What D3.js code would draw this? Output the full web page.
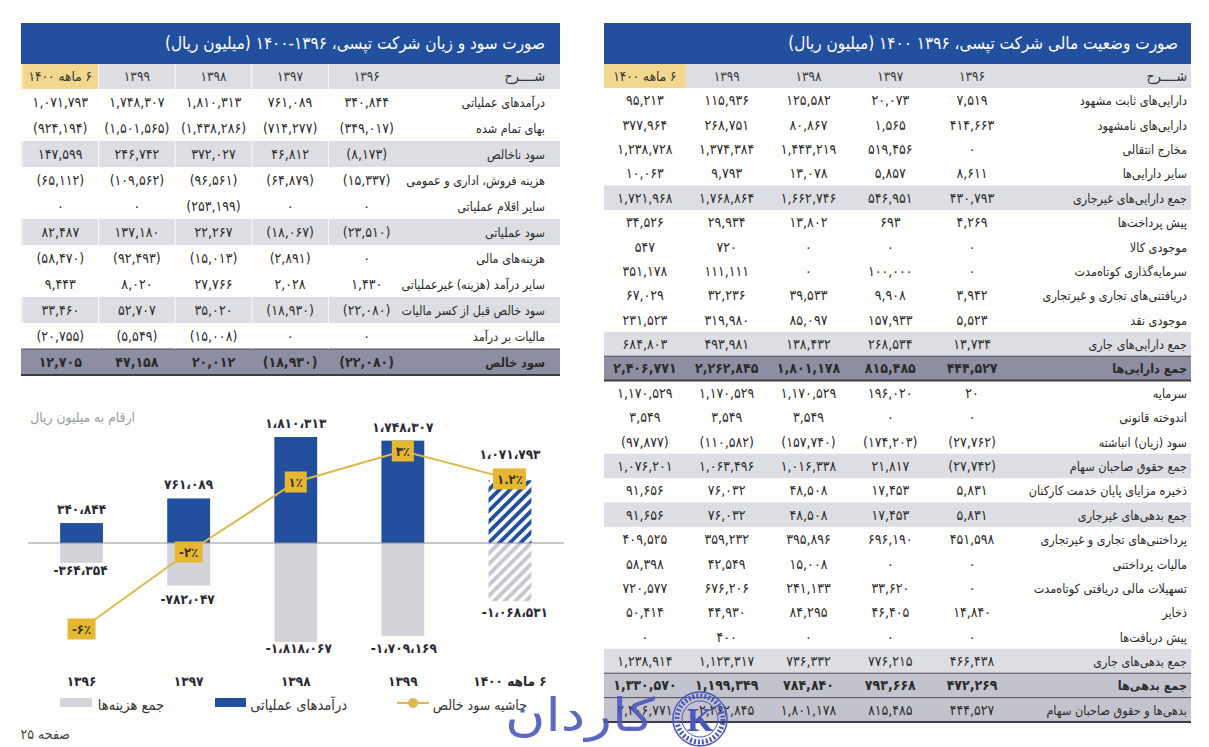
<!DOCTYPE html>
<html>
<head>
<meta charset="utf-8">
<script src="https://cdn.jsdelivr.net/npm/d3@7"></script>
<style>
    html, body { margin: 0; padding: 0; background: #fdfdfb; }
    svg { display: block; }
    text { font-family: "DejaVu Sans Condensed", "DejaVu Sans", sans-serif; }
</style>
</head>
<body>
<svg id="page" width="1209" height="747"></svg>
<script>
'use strict';

// years, oldest first (same order as the value arrays)
var years = ['1396', '1397', '1398', '1399', '6 ماهه 1400'];

// income statement
var incomeTitle = 'صورت سود و زیان شرکت تپسی، ۱۳۹۶-۱۴۰۰ (میلیون ریال)';
var incomeLabels = ['درآمدهای عملیاتی', 'بهای تمام شده', 'سود ناخالص', 'هزینه فروش، اداری و عمومی', 'سایر اقلام عملیاتی',
    'سود عملیاتی', 'هزینه‌های مالی', 'سایر درآمد (هزینه) غیرعملیاتی', 'سود خالص قبل از کسر مالیات', 'مالیات بر درآمد', 'سود خالص'];
var incomeValues = [
    [340844, 761089, 1810313, 1748307, 1071793],
    [-349017, -714277, -1438286, -1501565, -924194],
    [-8173, 46812, 372027, 246742, 147599],
    [-15337, -64879, -96561, -109562, -65112],
    [0, 0, -253199, 0, 0],
    [-23510, -18067, 22267, 137180, 82487],
    [0, -2891, -15013, -92493, -58470],
    [1430, 2028, 27766, 8020, 9443],
    [-22080, -18930, 35020, 52707, 33460],
    [0, 0, -15008, -5549, -20755],
    [-22080, -18930, 20012, 47158, 12705]
];
var incomeGrey = [2, 5, 8];
var incomeDark = [10];

// balance sheet
var balanceTitle = 'صورت وضعیت مالی شرکت تپسی، ۱۳۹۶  ۱۴۰۰ (میلیون ریال)';
var balanceLabels = ['دارایی‌های ثابت مشهود', 'دارایی‌های نامشهود', 'مخارج انتقالی', 'سایر دارایی‌ها', 'جمع دارایی‌های غیرجاری',
    'پیش پرداخت‌ها', 'موجودی کالا', 'سرمایه‌گذاری کوتاه‌مدت', 'دریافتنی‌های تجاری و غیرتجاری', 'موجودی نقد', 'جمع دارایی‌های جاری', 'جمع دارایی‌ها',
    'سرمایه', 'اندوخته قانونی', 'سود (زیان) انباشته', 'جمع حقوق صاحبان سهام', 'ذخیره مزایای پایان خدمت کارکنان', 'جمع بدهی‌های غیرجاری',
    'پرداختنی‌های تجاری و غیرتجاری', 'مالیات پرداختنی', 'تسهیلات مالی دریافتی کوتاه‌مدت', 'ذخایر', 'پیش دریافت‌ها', 'جمع بدهی‌های جاری', 'جمع بدهی‌ها', 'بدهی‌ها و حقوق صاحبان سهام'];
var balanceValues = [
    [7519, 20073, 125582, 115936, 95213],
    [414663, 1565, 80867, 268751, 377964],
    [0, 519456, 1443219, 1374384, 1238728],
    [8611, 5857, 13078, 9793, 10063],
    [430793, 546951, 1662746, 1768864, 1721968],
    [4269, 693, 13802, 29934, 34526],
    [0, 0, 0, 720, 547],
    [0, 100000, 0, 111111, 351178],
    [3942, 9908, 39533, 32236, 67029],
    [5523, 157933, 85097, 319980, 231523],
    [13734, 268534, 138432, 493981, 684803],
    [444527, 815485, 1801178, 2262845, 2406771],
    [20, 196020, 1170529, 1170529, 1170529],
    [0, 0, 3549, 3549, 3549],
    [-27762, -174203, -157740, -110582, -97877],
    [-27742, 21817, 1016338, 1063496, 1076201],
    [5831, 17453, 48508, 76032, 91656],
    [5831, 17453, 48508, 76032, 91656],
    [451598, 696190, 395896, 359232, 409525],
    [0, 0, 15008, 42549, 58398],
    [0, 33620, 241133, 676206, 720577],
    [14840, 46405, 84295, 44930, 50414],
    [0, 0, 0, 400, 0],
    [466438, 776215, 736332, 1123317, 1238914],
    [472269, 793668, 784840, 1199349, 1330570],
    [444527, 815485, 1801178, 2262845, 2406771]
];
var balanceGrey = [4, 10, 15, 17, 23];
var balanceDark = [11];
var balanceMid = [24, 25];
var balanceBold = [11, 24];

// chart series
var revenue = [340844, 761089, 1810313, 1748307, 1071793];
var costs = [-364354, -782047, -1818067, -1709169, -1068531];
var margin = [-6, -2, 1, 3, 1.2];

var BLUE = '#22509f', GREY = '#dcdee3', YELLOW = '#f2d88e', DARK = '#8e8ea2', GOLD = '#e6b733';

function fa(s) {
    return String(s).replace(/[0-9]/g, function(d) { return '۰۱۲۳۴۵۶۷۸۹'[d]; });
}

function tableNum(v) {
    var s = fa(d3.format(',')(Math.abs(v)));
    return v < 0 ? '(' + s + ')' : s;
}

function chartNum(v) {
    var s = fa(d3.format(',')(Math.abs(v))).replace(/,/g, '،');
    return v < 0 ? '-' + s : s;
}

var svg = d3.select('#page');
var defs = svg.append('defs');

function hatch(id, color) {
    var p = defs.append('pattern')
        .attr('id', id)
        .attr('width', 7.5)
        .attr('height', 7.5)
        .attr('patternUnits', 'userSpaceOnUse')
        .attr('patternTransform', 'rotate(45)');
    p.append('rect').attr('width', 7.5).attr('height', 7.5).attr('fill', '#fdfdfb');
    p.append('rect').attr('width', 3.8).attr('height', 7.5).attr('fill', color);
}
hatch('hatchBlue', BLUE);
hatch('hatchGrey', '#c5c8d0');

function drawTable(cfg) {
    var g = svg.append('g');
    var x = d3.scaleBand().domain(years.slice().reverse()).range(cfg.colRange);
    var y = d3.scaleBand().domain(d3.range(cfg.labels.length)).range(cfg.rowRange);
    var rowH = y.bandwidth();

    // title band
    g.append('rect').attr('x', cfg.left).attr('y', 23).attr('width', cfg.right - cfg.left).attr('height', 41).attr('fill', BLUE);
    g.append('text')
        .attr('x', cfg.titleX).attr('y', 49)
        .attr('text-anchor', 'start').attr('direction', 'rtl')
        .attr('font-size', 17).attr('fill', '#fff')
        .text(cfg.title);

    // header row
    g.append('rect').attr('x', cfg.left).attr('y', 64).attr('width', cfg.right - cfg.left).attr('height', cfg.rowRange[0] - 64).attr('fill', '#dddde4');
    g.append('rect').attr('x', cfg.left).attr('y', 64).attr('width', x(years[4]) + x.bandwidth() - cfg.left).attr('height', cfg.rowRange[0] - 64).attr('fill', YELLOW);
    g.append('text')
        .attr('x', cfg.labelX).attr('y', 81)
        .attr('text-anchor', 'start').attr('direction', 'rtl')
        .attr('font-size', 14).attr('fill', '#333')
        .text('شــــرح');
    g.selectAll('.yr').data(years).enter().append('text')
        .attr('x', function(d) { return x(d) + x.bandwidth() / 2; })
        .attr('y', 81)
        .attr('text-anchor', 'middle')
        .attr('direction', 'rtl')
        .attr('font-size', 13.5)
        .attr('fill', '#333')
        .text(function(d) { return fa(d); });

    // shaded rows
    cfg.labels.forEach(function(label, i) {
        var fill = null;
        if (cfg.grey.indexOf(i) >= 0) fill = GREY;
        if (cfg.mid.indexOf(i) >= 0) fill = '#c2c3cc';
        if (cfg.dark.indexOf(i) >= 0) fill = DARK;
        if (fill) {
            g.append('rect').attr('x', cfg.left).attr('y', y(i)).attr('width', cfg.right - cfg.left).attr('height', rowH).attr('fill', fill);
        }
        if (cfg.dark.indexOf(i) >= 0 || cfg.mid.indexOf(i) >= 0) {
            g.append('line').attr('x1', cfg.left).attr('x2', cfg.right).attr('y1', y(i)).attr('y2', y(i)).attr('stroke', '#4b4b58').attr('stroke-width', 1);
        }
        if (i === cfg.labels.length - 1 || cfg.dark.indexOf(i) >= 0) {
            g.append('line').attr('x1', cfg.left).attr('x2', cfg.right).attr('y1', y(i) + rowH).attr('y2', y(i) + rowH).attr('stroke', '#3c3c48').attr('stroke-width', 2);
        }
    });

    // column gaps on the shaded rows
    if (cfg.gaps) {
        years.forEach(function(d) {
            g.append('line').attr('x1', x(d)).attr('x2', x(d)).attr('y1', 64).attr('y2', cfg.rowRange[1] - rowH).attr('stroke', '#fdfdfb').attr('stroke-width', 1);
        });
    }

    // labels + values
    var rows = g.selectAll('.row').data(cfg.labels).enter().append('g')
        .attr('transform', function(d, i) { return 'translate(0,' + (y(i) + rowH / 2 + 5) + ')'; });
    rows.append('text')
        .attr('x', cfg.labelX)
        .attr('text-anchor', 'start')
        .attr('direction', 'rtl')
        .attr('font-size', 12.5)
        .attr('font-weight', function(d, i) { return cfg.bold.indexOf(i) >= 0 ? 'bold' : 'normal'; })
        .attr('fill', '#2b2b2b')
        .text(function(d) { return d; });
    rows.each(function(d, i) {
        d3.select(this).selectAll('.v').data(cfg.values[i]).enter().append('text')
            .attr('x', function(v, j) { return x(years[j]) + x.bandwidth() / 2; })
            .attr('text-anchor', 'middle')
            .attr('font-size', 14)
            .attr('font-weight', cfg.bold.indexOf(i) >= 0 ? 'bold' : 'normal')
            .attr('fill', '#2b2b2b')
            .text(function(v) { return tableNum(v); });
    });
}

drawTable({
    title: incomeTitle, titleX: 545,
    left: 21, right: 560, labelX: 545, colRange: [22, 405], rowRange: [89, 375],
    labels: incomeLabels, values: incomeValues,
    grey: incomeGrey, dark: incomeDark, mid: [], bold: incomeDark, gaps: true
});
drawTable({
    title: balanceTitle, titleX: 1178,
    left: 604, right: 1191, labelX: 1187, colRange: [604, 1013], rowRange: [88, 722],
    labels: balanceLabels, values: balanceValues,
    grey: balanceGrey, dark: balanceDark, mid: balanceMid, bold: balanceBold, gaps: false
});

// bar + line chart
var chart = svg.append('g');
var x = d3.scaleBand().domain(years).range([28, 563.5]).paddingInner(0.6).paddingOuter(0.3);
var y = d3.scaleLinear().domain([-1818067, 0, 1810313]).range([642, 543, 437]);
var yMargin = d3.scaleLinear().domain([-6, -2, 1, 3]).range([629, 552, 482, 451]);
var last = years[4];

chart.selectAll('.rev').data(revenue).enter().append('rect')
    .attr('x', function(d, i) { return x(years[i]); })
    .attr('width', x.bandwidth())
    .attr('y', function(d) { return y(d); })
    .attr('height', function(d) { return y(0) - y(d); })
    .attr('fill', function(d, i) { return years[i] === last ? 'url(#hatchBlue)' : BLUE; });

chart.selectAll('.cost').data(costs).enter().append('rect')
    .attr('x', function(d, i) { return x(years[i]); })
    .attr('width', x.bandwidth())
    .attr('y', y(0))
    .attr('height', function(d) { return y(d) - y(0); })
    .attr('fill', function(d, i) { return years[i] === last ? 'url(#hatchGrey)' : '#d2d4da'; });

chart.append('line')
    .attr('x1', 28).attr('x2', 564)
    .attr('y1', y(0)).attr('y2', y(0))
    .attr('stroke', '#8c9097').attr('stroke-width', 1);

var line = d3.line()
    .x(function(d, i) { return x(years[i]) + x.bandwidth() / 2; })
    .y(function(d) { return yMargin(d); });
chart.append('path').datum(margin)
    .attr('d', line)
    .attr('fill', 'none')
    .attr('stroke', '#dcb84e')
    .attr('stroke-width', 2);

chart.selectAll('.rlab').data(revenue).enter().append('text')
    .attr('x', function(d, i) { return x(years[i]) + x.bandwidth() / 2; })
    .attr('y', function(d, i) { return y(d) + (years[i] === last ? -21 : -9); })
    .attr('text-anchor', 'middle')
    .attr('font-size', 13.5)
    .attr('font-weight', 'bold')
    .attr('fill', '#2a2a35')
    .text(function(d) { return chartNum(d); });

chart.selectAll('.clab').data(costs).enter().append('text')
    .attr('x', function(d, i) { return x(years[i]) + x.bandwidth() / 2 + [-1, -1, 3, 1, 5][i]; })
    .attr('y', function(d, i) { return y(d) + [12, 18, 11, 17, 16][i]; })
    .attr('text-anchor', 'middle')
    .attr('font-size', 13.5)
    .attr('font-weight', 'bold')
    .attr('fill', '#2a2a35')
    .text(function(d) { return chartNum(d); });

var boxes = chart.selectAll('.box').data(margin).enter().append('g')
    .attr('transform', function(d, i) { return 'translate(' + (x(years[i]) + x.bandwidth() / 2) + ',' + yMargin(d) + ')'; });
boxes.append('rect')
    .attr('x', function(d) { return d === 1.2 ? -17 : (d < 0 ? -14 : -11); })
    .attr('y', -10.5)
    .attr('width', function(d) { return d === 1.2 ? 33 : (d < 0 ? 28 : 22); })
    .attr('height', 21)
    .attr('fill', GOLD);
boxes.append('text')
    .attr('y', 5)
    .attr('text-anchor', 'middle')
    .attr('font-size', 13)
    .attr('font-weight', 'bold')
    .attr('fill', '#3a3220')
    .text(function(d) { return (d < 0 ? '-' : '') + fa(Math.abs(d)) + '٪'; });

// year labels under the chart
chart.selectAll('.cat').data(years).enter().append('text')
    .attr('x', function(d) { return x(d) + x.bandwidth() / 2; })
    .attr('y', 686)
    .attr('text-anchor', 'middle')
    .attr('direction', 'rtl')
    .attr('font-size', 13.5)
    .attr('font-weight', 'bold')
    .attr('fill', '#2a2a35')
    .text(function(d) { return fa(d); });

// unit note
chart.append('text')
    .attr('x', 135).attr('y', 422)
    .attr('text-anchor', 'start').attr('direction', 'rtl')
    .attr('font-size', 13.8).attr('fill', '#9a9ca2')
    .text('ارقام به میلیون ریال');

// legend
var legend = chart.append('g');
legend.append('rect').attr('x', 60).attr('y', 698).attr('width', 32).attr('height', 9).attr('fill', '#d2d4da');
legend.append('text').attr('x', 164).attr('y', 710).attr('text-anchor', 'start').attr('direction', 'rtl')
    .attr('font-size', 14.5).attr('fill', '#333').text('جمع هزینه‌ها');
legend.append('rect').attr('x', 215).attr('y', 698).attr('width', 31).attr('height', 9).attr('fill', BLUE);
legend.append('text').attr('x', 347).attr('y', 710).attr('text-anchor', 'start').attr('direction', 'rtl')
    .attr('font-size', 14.5).attr('fill', '#333').text('درآمدهای عملیاتی');
legend.append('line').attr('x1', 397).attr('x2', 429).attr('y1', 703).attr('y2', 703).attr('stroke', '#dcb84e').attr('stroke-width', 2);
legend.append('circle').attr('cx', 413).attr('cy', 703).attr('r', 5).attr('fill', '#dcb84e');
legend.append('text').attr('x', 527).attr('y', 710).attr('text-anchor', 'start').attr('direction', 'rtl')
    .attr('font-size', 14).attr('fill', '#333').text('حاشیه سود خالص');

// page number
svg.append('text').attr('x', 70).attr('y', 739).attr('text-anchor', 'start').attr('direction', 'rtl')
    .attr('font-size', 14).attr('fill', '#444').text('صفحه ۲۵');

// watermark
svg.append('text').attr('x', 655).attr('y', 731).attr('text-anchor', 'start').attr('direction', 'rtl')
    .attr('font-size', 46).attr('fill', '#4a58bb').attr('fill-opacity', 0.9)
    .attr('textLength', 150).attr('lengthAdjust', 'spacingAndGlyphs')
    .text('کاردان');
var seal = svg.append('g').attr('transform', 'translate(700,719)');
seal.append('circle').attr('r', 27).attr('fill', 'none').attr('stroke', '#4a58bb').attr('stroke-width', 1.5);
seal.append('circle').attr('r', 23).attr('fill', 'none').attr('stroke', '#4a58bb').attr('stroke-width', 5).attr('stroke-dasharray', '2 2');
seal.append('circle').attr('r', 18).attr('fill', 'none').attr('stroke', '#4a58bb').attr('stroke-width', 1);
seal.append('text').attr('y', 12).attr('text-anchor', 'middle').attr('font-size', 34).attr('font-weight', 'bold')
    .style('font-family', '"Liberation Serif", serif').attr('fill', '#4a58bb').text('K');
</script>
</body>
</html>
